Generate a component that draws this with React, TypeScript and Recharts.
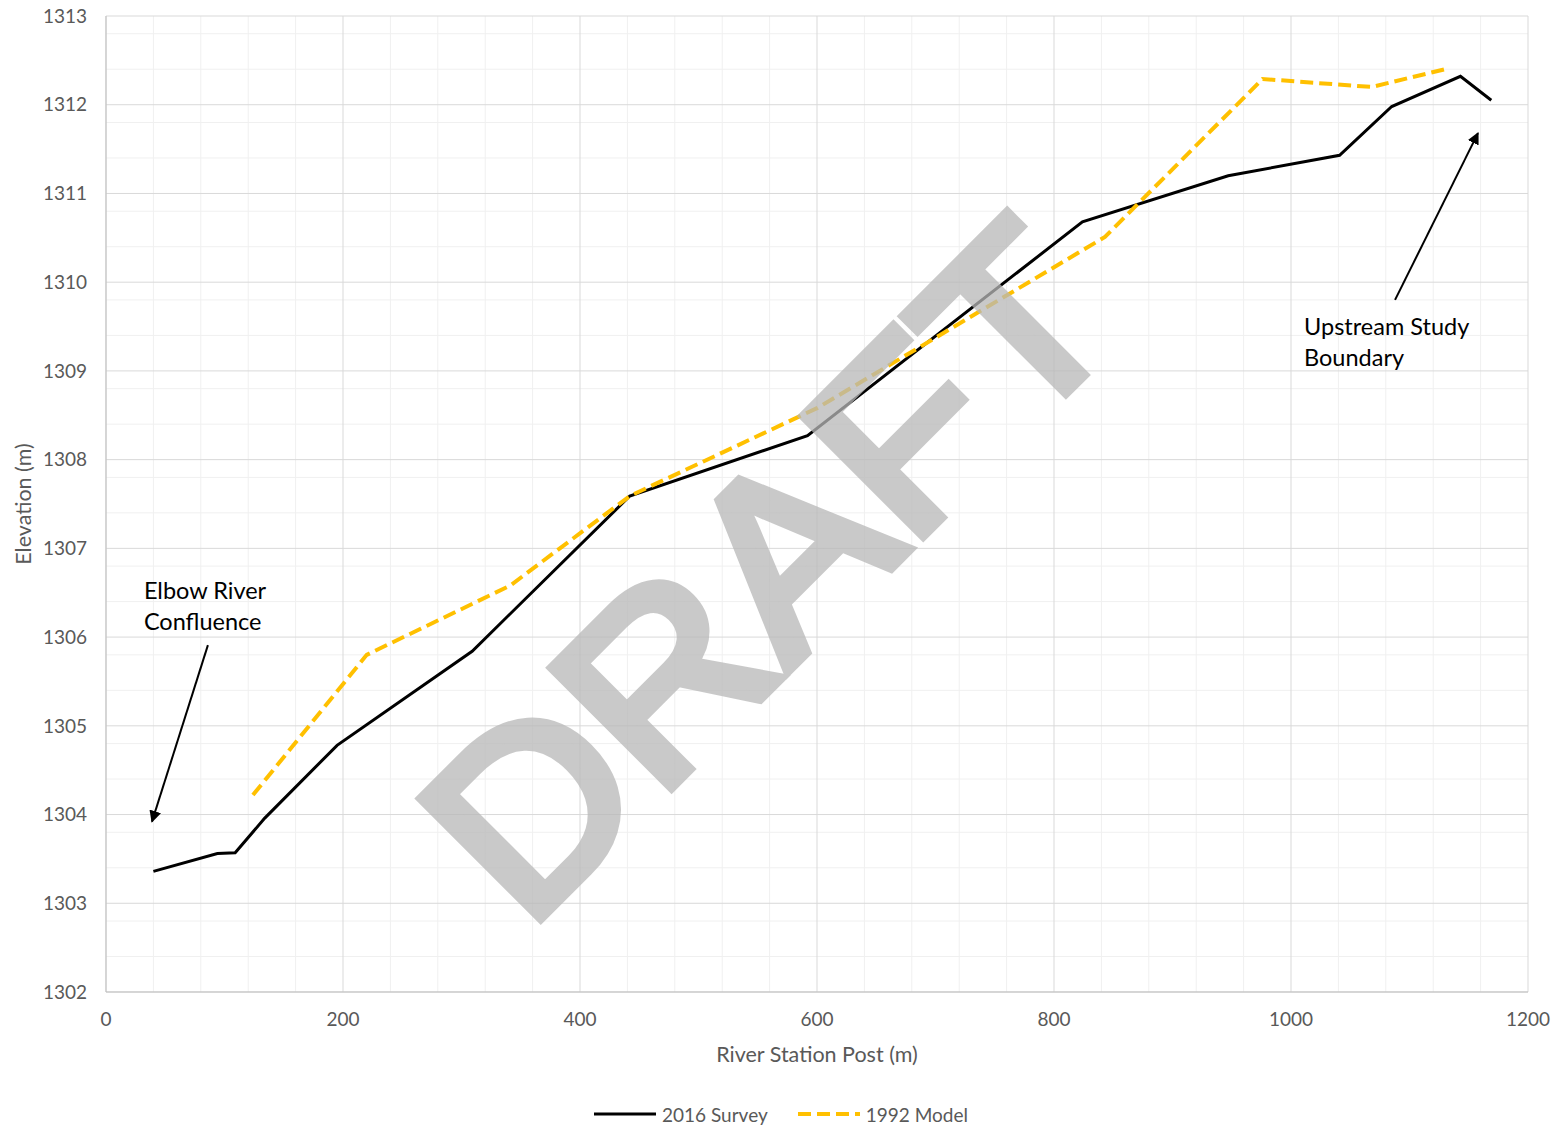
import { CartesianGrid, Legend, Line, LineChart, XAxis, YAxis } from 'recharts';

// 2016 Survey profile (station m, elevation m)
const surveyStation = [40, 94, 109, 134, 195, 309, 442, 592, 824, 947, 1041, 1085, 1143, 1169];
const surveyElev = [1303.36, 1303.56, 1303.57, 1303.96, 1304.78, 1305.84, 1307.59, 1308.27, 1310.68, 1311.2, 1311.43, 1311.98, 1312.32, 1312.05];

// 1992 Model profile
const modelStation = [124, 220, 341, 442, 600, 843, 976, 1068, 1130];
const modelElev = [1304.22, 1305.8, 1306.58, 1307.59, 1308.58, 1310.51, 1312.29, 1312.2, 1312.4];

const xTicks = [0, 200, 400, 600, 800, 1000, 1200];
const yTicks = [1302, 1303, 1304, 1305, 1306, 1307, 1308, 1309, 1310, 1311, 1312, 1313];
const xMinor = [40, 80, 120, 160, 240, 280, 320, 360, 440, 480, 520, 560, 640, 680, 720, 760, 840, 880, 920, 960, 1040, 1080, 1120, 1160];
const yMinor = yTicks.slice(0, -1).flatMap((v) => [0.2, 0.4, 0.6, 0.8].map((f) => +(v + f).toFixed(1)));

const survey = surveyStation.map((x, i) => ({ x, survey: surveyElev[i] }));
const model = modelStation.map((x, i) => ({ x, model: modelElev[i] }));

const W = 1561;
const H = 1129;
const plot = { left: 106, right: 1528, top: 16, bottom: 992 };
const px = (x: number) => plot.left + (x / 1200) * (plot.right - plot.left);
const py = (y: number) => plot.top + ((1313 - y) / 11) * (plot.bottom - plot.top);

const font = 'Lato, "Open Sans", sans-serif';
const gold = '#FFC000';

const legendContent = () => (
  <div style={{ display: 'flex', justifyContent: 'center', alignItems: 'center', height: 40, paddingLeft: 8, paddingTop: 5, fontFamily: font, fontSize: 19, color: '#595959' }}>
    <svg width={62} height={10} style={{ marginRight: 6 }}>
      <line x1={0} y1={5} x2={62} y2={5} stroke="#000" strokeWidth={3} />
    </svg>
    <span style={{ marginRight: 30 }}>2016 Survey</span>
    <svg width={62} height={10} style={{ marginRight: 6 }}>
      <line x1={0} y1={5} x2={62} y2={5} stroke={gold} strokeWidth={4} strokeDasharray="13 6" />
    </svg>
    <span>1992 Model</span>
  </div>
);

export default function App() {
  return (
    <div style={{ position: 'absolute', left: 0, top: 0, width: W, height: H, background: '#fff' }}>
      <LineChart width={W} height={H} margin={{ top: 16, right: 33, bottom: 0, left: 26 }}>
        <CartesianGrid stroke="#f0f0f0" verticalValues={xMinor} horizontalValues={yMinor} />
        <CartesianGrid stroke="#d9d9d9" verticalValues={xTicks} horizontalValues={yTicks} />
        <XAxis
          type="number"
          dataKey="x"
          domain={[0, 1200]}
          ticks={xTicks}
          tickSize={0}
          tickMargin={21}
          height={97}
          stroke="#bfbfbf"
          tick={{ fill: '#595959', fontSize: 19, fontFamily: font }}
          label={{ value: 'River Station Post (m)', position: 'insideTop', dy: 50, fill: '#595959', fontSize: 21.5, fontFamily: font }}
          allowDuplicatedCategory={false}
        />
        <YAxis
          type="number"
          domain={[1302, 1313]}
          ticks={yTicks}
          tickSize={0}
          tickMargin={19}
          width={80}
          stroke="#bfbfbf"
          tick={{ fill: '#595959', fontSize: 19, fontFamily: font }}
          label={{ value: 'Elevation (m)', angle: -90, position: 'insideLeft', dx: -8, fill: '#595959', fontSize: 21.5, fontFamily: font, style: { textAnchor: 'middle' } }}
        />
        <Legend verticalAlign="bottom" height={40} content={legendContent} />
        <Line data={survey} dataKey="survey" name="2016 Survey" stroke="#000" strokeWidth={3} dot={false} isAnimationActive={false} />
        <Line data={model} dataKey="model" name="1992 Model" stroke={gold} strokeWidth={4} strokeDasharray="13 6" dot={false} isAnimationActive={false} />
      </LineChart>
      <svg width={W} height={H} style={{ position: 'absolute', left: 0, top: 0, pointerEvents: 'none' }}>
        <defs>
          <marker id="arrow" viewBox="0 0 10 10" refX={9} refY={5} markerWidth={6} markerHeight={6} orient="auto-start-reverse">
            <path d="M0,0 L10,5 L0,10 z" fill="#000" />
          </marker>
        </defs>
        <text
          x={0}
          y={0}
          transform="translate(828 630) rotate(-45) scale(1.05 1)"
          textAnchor="middle"
          fontFamily='"Liberation Sans", Arial, sans-serif'
          fontSize={244}
          fill="#b8b8b8"
          stroke="#b8b8b8"
          strokeWidth={11}
          opacity={0.75}
        >
          DRAFT
        </text>
        <g fontFamily={font} fontSize={23.5} fill="#000">
          <text x={px(32)} y={py(1306.53)} dominantBaseline="central">Elbow River</text>
          <text x={px(32)} y={py(1306.18)} dominantBaseline="central">Confluence</text>
          <text x={px(1011)} y={py(1309.51)} dominantBaseline="central">Upstream Study</text>
          <text x={px(1011)} y={py(1309.16)} dominantBaseline="central">Boundary</text>
        </g>
        <line x1={px(86)} y1={py(1305.91)} x2={px(38.8)} y2={py(1303.92)} stroke="#000" strokeWidth={2} markerEnd="url(#arrow)" />
        <line x1={px(1087.8)} y1={py(1309.8)} x2={px(1157.8)} y2={py(1311.68)} stroke="#000" strokeWidth={2} markerEnd="url(#arrow)" />
      </svg>
    </div>
  );
}
